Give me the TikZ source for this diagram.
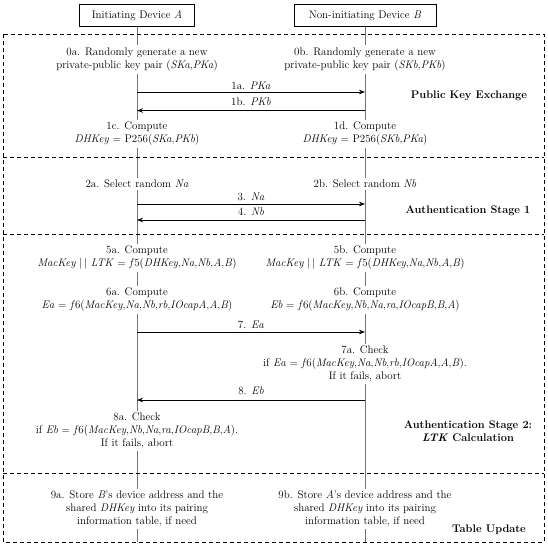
\documentclass[tikz,border=0pt]{standalone}
\usepackage{fontspec}
\usetikzlibrary{arrows.meta}
\begin{document}
\begin{tikzpicture}[x=1pt,y=-1pt,
  every node/.style={font=\fontsize{11}{13}\selectfont},
  dev/.style={draw,line width=1pt,minimum height=22.4pt,inner sep=0pt},
  txt/.style={fill=white,align=center,inner sep=2.5pt},
  life/.style={draw=black!55,line width=0.6pt},
  msg/.style={line width=0.7pt,-{Stealth[length=6pt,width=4.5pt]}},
  frm/.style={dash pattern=on 4pt off 3pt,line width=0.8pt},
  stage/.style={font=\fontsize{11}{13}\selectfont\bfseries,align=center},
  lab/.style={anchor=base,inner sep=0pt}]
\useasboundingbox (0,0) rectangle (548,550);
% devices
\node[dev,minimum width=115pt] (devA) at (137,15.5) {Initiating Device \textit{A}};
\node[dev,minimum width=142pt] (devB) at (365,15.5) {Non-initiating Device \textit{B}};
\coordinate (aEnd) at (137,542);
\coordinate (bEnd) at (365,542);
\draw[life] (devA.south) -- (aEnd);
\draw[life] (devB.south) -- (bEnd);
% frame and dividers
\draw[frm] (3,34) rectangle (544,542);
\draw[frm] (3,157) -- (544,157);
\draw[frm] (3,234) -- (544,234);
\draw[frm] (3,473) -- (544,473);
% section 1
\node[txt] (t0a) at (137,59.5) {0a. Randomly generate a new\\private-public key pair (\textit{SKa},\textit{PKa})};
\node[txt] (t0b) at (365,59.5) {0b. Randomly generate a new\\private-public key pair (\textit{SKb},\textit{PKb})};
\coordinate (a1) at (137,92); \coordinate (b1) at (365,92);
\coordinate (a2) at (137,110.5); \coordinate (b2) at (365,110.5);
\draw[msg] (a1) -- (b1);
\draw[msg] (b2) -- (a2);
\node[lab] (l1a) at (251,89) {1a. \textit{PKa}};
\node[lab] (l1b) at (251,105) {1b. \textit{PKb}};
\node[stage] (s1) at (469,96) {Public Key Exchange};
\node[txt] (t1c) at (137,134) {1c. Compute\\\textit{DHKey} = P256(\textit{SKa},\textit{PKb})};
\node[txt] (t1d) at (365,134) {1d. Compute\\\textit{DHKey} = P256(\textit{SKb},\textit{PKa})};
% section 2
\node[txt] (t2a) at (137,184) {2a. Select random \textit{Na}};
\node[txt] (t2b) at (365,184) {2b. Select random \textit{Nb}};
\coordinate (a3) at (137,204); \coordinate (b3) at (365,204);
\coordinate (a4) at (137,220); \coordinate (b4) at (365,220);
\draw[msg] (a3) -- (b3);
\draw[msg] (b4) -- (a4);
\node[lab] (l3) at (251,200) {3. \textit{Na}};
\node[lab] (l4) at (251,215) {4. \textit{Nb}};
\node[stage] (s2) at (468,211) {Authentication Stage 1};
% section 3
\node[txt] (t5a) at (137,258) {5a. Compute\\\textit{MacKey} |\,| \textit{LTK} = \textit{f}5(\textit{DHKey},\textit{Na},\textit{Nb},\textit{A},\textit{B})};
\node[txt] (t5b) at (365,258) {5b. Compute\\\textit{MacKey} |\,| \textit{LTK} = \textit{f}5(\textit{DHKey},\textit{Na},\textit{Nb},\textit{A},\textit{B})};
\node[txt] (t6a) at (137,300) {6a. Compute\\\textit{Ea} = \textit{f}6(\textit{MacKey},\textit{Na},\textit{Nb},\textit{rb},\textit{IOcapA},\textit{A},\textit{B})};
\node[txt] (t6b) at (365,300) {6b. Compute\\\textit{Eb} = \textit{f}6(\textit{MacKey},\textit{Nb},\textit{Na},\textit{ra},\textit{IOcapB},\textit{B},\textit{A})};
\coordinate (a7) at (137,332); \coordinate (b7) at (365,332);
\draw[msg] (a7) -- (b7);
\node[lab] (l7) at (251,328) {7. \textit{Ea}};
\node[txt] (t7a) at (365,364) {7a. Check\\if \textit{Ea} = \textit{f}6(\textit{MacKey},\textit{Na},\textit{Nb},\textit{rb},\textit{IOcapA},\textit{A},\textit{B}).\\If it fails, abort};
\coordinate (a8) at (137,400); \coordinate (b8) at (365,400);
\draw[msg] (b8) -- (a8);
\node[lab] (l8) at (251,394) {8. \textit{Eb}};
\node[txt] (t8a) at (137,431) {8a. Check\\if \textit{Eb} = \textit{f}6(\textit{MacKey},\textit{Nb},\textit{Na},\textit{ra},\textit{IOcapB},\textit{B},\textit{A}).\\If it fails, abort};
\node[stage] (s3) at (468,431.5) {Authentication Stage 2:\\\textit{LTK} Calculation};
% section 4
\node[txt] (t9a) at (137,509) {9a. Store \textit{B}’s device address and the\\shared \textit{DHKey} into its pairing\\information table, if need};
\node[txt] (t9b) at (365,509) {9b. Store \textit{A}’s device address and the\\shared \textit{DHKey} into its pairing\\information table, if need};
\node[stage] (s4) at (489,530) {Table Update};
\end{tikzpicture}
\end{document}
